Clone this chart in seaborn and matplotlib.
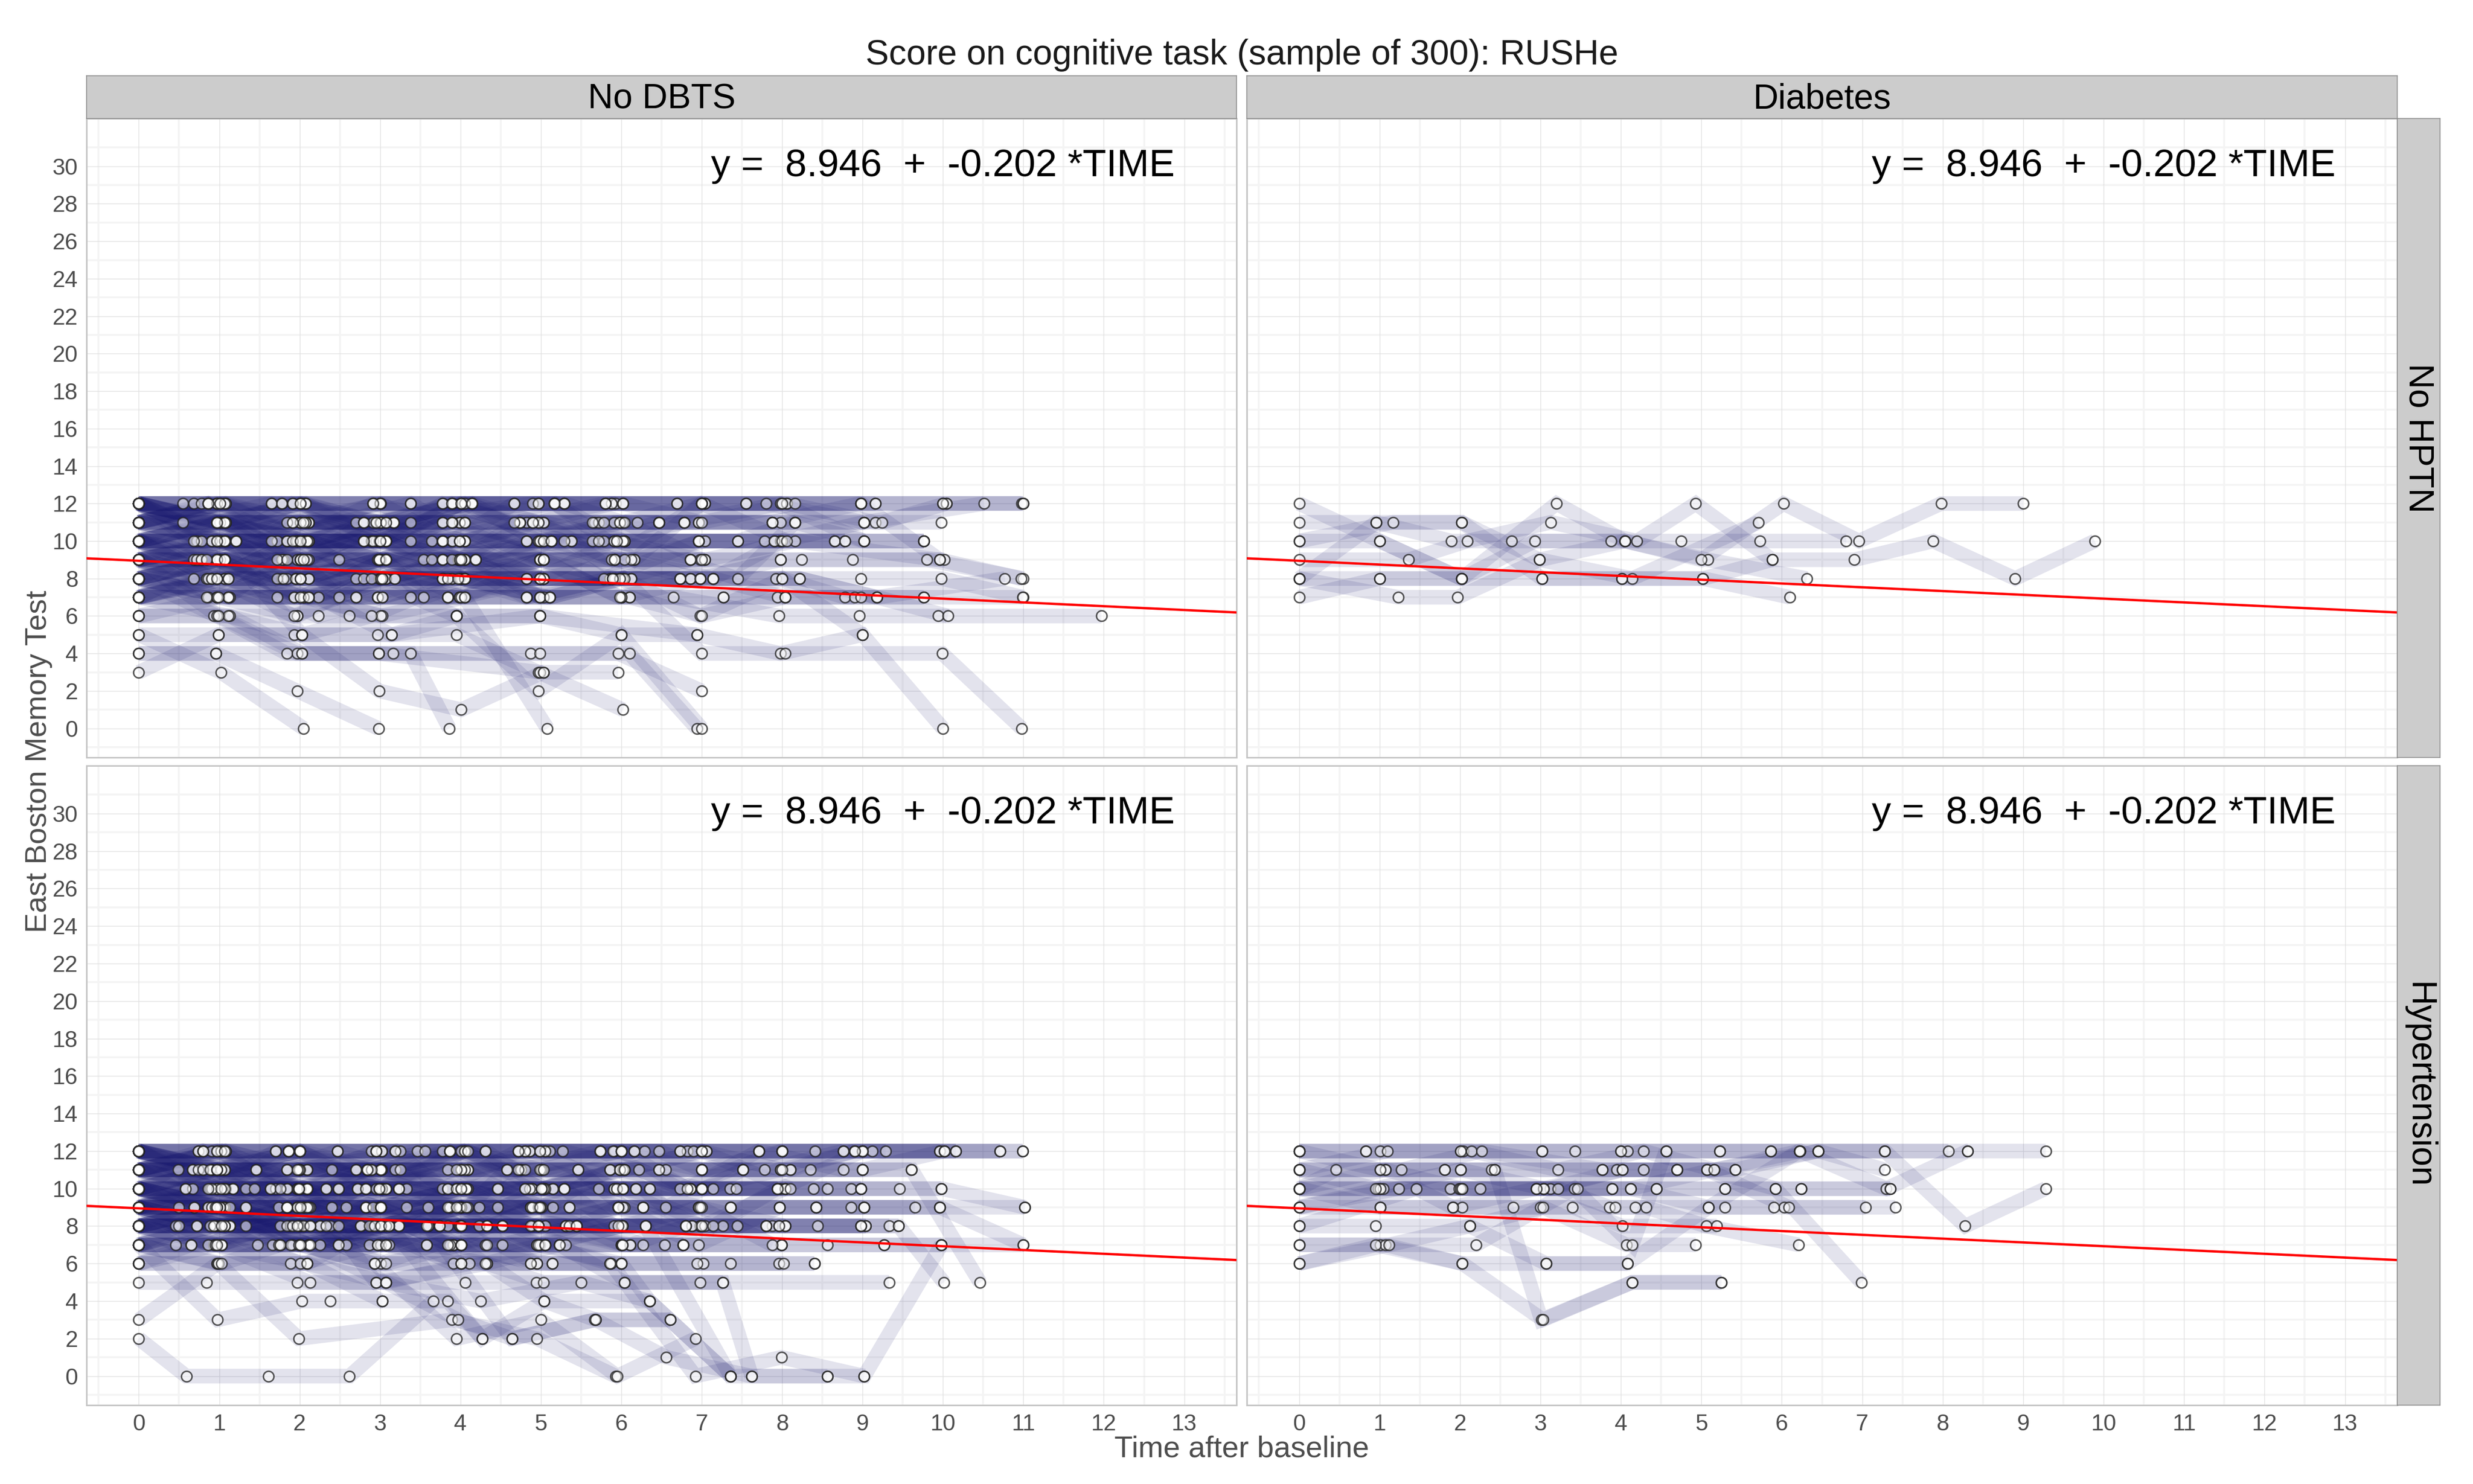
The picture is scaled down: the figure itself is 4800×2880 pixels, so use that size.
import numpy as np
import pandas as pd
import matplotlib
matplotlib.use("Agg")
import matplotlib.pyplot as plt
import seaborn as sns

# ---------------- data ----------------
TITLE = "Score on cognitive task (sample of 300): RUSHe"
COL_LABELS = ["No DBTS", "Diabetes"]
ROW_LABELS = ["No HPTN", "Hypertension"]
X_LABEL = "Time after baseline"
Y_LABEL = "East Boston Memory Test"
INTERCEPT = 8.946
SLOPE = -0.202
EQ_TEXT = "y =  8.946  +  -0.202 *TIME"
X_TICKS = list(range(0, 14))
Y_TICKS = list(range(0, 31, 2))

# No DBTS / No HPTN : one list of (time, score) visits per person
NODB_NOHP = [
    [[0,12],[0.55,12],[1.65,12],[2.91,12],[3.78,12],[4.67,12],[5.8,12],[6.69,12],[7.55,12],[8.98,12],[10.0,12],[10.98,12]],
    [[0,12],[0.68,12],[1.78,12],[3.0,12],[3.89,12],[4.97,12],[6.02,12],[7.0,12],[8.0,12],[9.16,12],[10.04,12],[11.0,12]],
    [[0,12],[0.78,12],[1.91,12],[3.38,12],[4.01,12],[5.17,12],[5.88,12],[7.04,12],[7.8,12],[9.02,11],[10.51,12]],
    [[0,11],[0.86,12],[2.01,12],[3.0,11],[4.14,12],[5.29,12],[6.02,11],[7.0,12],[8.06,12],[9.16,11],[9.98,11]],
    [[0,12],[0.97,12],[2.07,12],[2.95,11],[3.9,11],[4.74,11],[5.67,11],[6.47,11],[7.88,11],[8.98,12]],
    [[0,11],[1.08,12],[2.01,11],[3.01,11],[3.99,11],[4.82,11],[5.98,11],[6.96,11],[7.98,11],[9.24,11],[10.04,12]],
    [[0,10],[0.97,11],[1.91,11],[2.7,11],[3.38,11],[4.05,11],[4.9,11],[5.72,11],[6.2,11],[6.78,11],[7.98,12],[9.02,10],[9.76,10]],
    [[0,12],[1.01,11],[2.11,11],[2.8,11],[3.17,11],[4.9,12],[5.93,12]],
    [[0,11],[1.07,11],[2.09,10],[3.07,11],[4.05,10],[5.03,11],[6.04,10],[7.45,10],[8.16,11],[9.02,10]],
    [[0,10],[0.72,10],[1.72,10],[2.8,10],[3.64,10],[4.99,10],[5.78,10],[6.96,10],[7.78,10],[8.65,10],[9.76,10]],
    [[0,10],[0.91,10],[1.84,10],[2.89,10],[3.78,10],[5.13,10],[5.94,10],[7.9,10],[8.78,10]],
    [[0,11],[1.01,10],[1.97,10],[2.99,10],[3.99,10],[5.38,10],[6.04,10],[7.98,10],[9.02,11]],
    [[0,10],[1.07,10],[2.05,10],[3.07,10],[3.99,9],[4.99,9],[5.92,9],[6.86,9],[7.98,9],[8.88,9],[9.8,9],[11.0,8]],
    [[0,9],[1.21,10],[2.09,10],[2.99,9],[3.78,9],[5.91,10],[6.98,9],[8.24,9],[10.02,9]],
    [[0,9],[0.68,9],[1.8,9],[2.49,9],[3.54,9],[4.19,9],[5.91,9],[7.04,9],[8.16,10],[9.96,9],[10.97,8]],
    [[0,9],[0.78,9],[2.01,9],[3.07,9],[3.97,9],[4.82,8],[5.86,8],[6.73,8],[7.92,8],[8.98,8],[9.98,8],[11.0,7]],
    [[0,8],[0.97,9],[2.01,8],[3.01,8],[4.01,8],[5.03,8],[5.98,8],[6.86,8],[8.0,8],[8.78,7],[9.76,7]],
    [[0,8],[1.07,9],[1.78,8],[2.7,8],[3.78,8],[4.05,9],[5.03,8],[6.12,8],[6.98,8],[8.22,8],[9.18,7],[10.77,8]],
    [[0,8],[0.84,8],[1.95,8],[3.18,8],[3.89,8],[4.99,8],[5.89,8],[7.14,8],[8.04,7],[8.9,7]],
    [[0,7],[0.97,8],[2.11,8],[3.01,8],[4.01,8],[4.82,7],[6.0,7],[7.27,7],[7.94,7],[8.98,7],[9.76,7],[10.99,7]],
    [[0,7],[0.86,7],[1.72,7],[2.97,7],[3.84,7],[4.99,7],[6.1,7],[6.65,7],[7.96,6],[8.96,6],[9.94,6],[11.97,6]],
    [[0,7],[0.97,7],[1.93,7],[3.03,7],[3.99,7],[5.11,7],[6.02,8],[6.98,6],[8.0,8],[9.0,5]],
    [[0,8],[1.11,7],[2.05,7],[3.38,7],[4.05,7],[4.82,7],[5.86,8],[6.73,8]],
    [[0,6],[0.93,6],[1.97,6],[2.62,6],[3.95,6],[4.99,6],[6.0,5],[6.94,5]],
    [[0,12],[1.08,12],[2.07,12],[3.0,12],[4.14,12],[4.97,11],[5.88,12],[7.04,12],[8.06,12],[9.16,12]],
    [[0,11],[0.97,11],[2.11,11],[3.17,11],[4.05,11],[5.03,11],[5.98,11],[6.96,11],[8.16,11]],
    [[0,10],[1.01,11],[2.09,10],[3.07,10],[4.01,12],[5.17,12],[6.16,9],[7.0,12]],
    [[0,9],[0.97,10],[1.97,9],[2.99,9],[4.05,9],[4.99,10],[5.92,9],[6.98,8],[7.98,9]],
    [[0,12],[0.97,12],[2.01,12],[2.91,12],[3.89,12],[5.29,12],[6.69,12],[8.0,12]],
    [[0,11],[1.07,11],[2.01,11],[2.95,11],[4.74,11],[5.64,11],[6.78,11],[7.88,11]],
    [[0,10],[1.07,10],[1.97,10],[2.99,10],[3.78,10],[4.99,10],[5.91,11],[6.47,11]],
    [[0,8],[1.01,9],[2.01,9],[3.07,8],[4.01,8],[5.03,8],[5.98,8],[7.14,8],[8.22,8],[9.18,7]],
    [[0,9],[1.07,8],[1.95,8],[2.7,7],[3.84,7],[4.99,8],[6.12,8],[6.86,8]],
    [[0,7],[0.97,7],[2.05,7],[2.97,7],[3.99,7],[5.11,7],[6.0,7],[7.27,7],[8.04,7]],
    [[0,12],[0.86,12],[1.91,11],[3.01,12],[4.01,12],[4.97,12],[6.02,12],[7.0,12]],
    [[0,11],[1.01,11],[2.11,11],[3.01,11],[3.99,11],[4.82,10],[5.94,10],[6.96,10]],
    [[0,10],[0.97,10],[2.05,10],[2.8,10],[3.99,10],[5.13,10],[6.04,10],[7.45,10],[8.65,10]],
    [[0,9],[1.07,9],[2.01,9],[3.07,9],[4.19,9],[4.99,9],[5.92,9],[7.04,9]],
    [[0,8],[0.97,8],[2.11,8],[3.01,8],[3.89,8],[5.03,8]],
    [[0,12],[1.01,10],[1.84,10],[3.07,10],[4.05,9],[5.03,9],[6.16,9],[7.04,10],[7.98,10],[9.02,10],[9.76,10]],
    [[0,5],[1.02,3],[2.05,0]],
    [[0,4],[0.96,4],[1.97,2],[2.98,0]],
    [[0,3],[0.99,5],[1.93,5],[2.97,5],[3.95,5],[4.97,3],[6.02,1]],
    [[0,6],[1.13,6],[2.03,4],[3.38,4],[3.86,0]],
    [[0,7],[1.11,6],[2.03,5],[2.99,2],[4.01,1],[5.03,3],[5.96,3]],
    [[0,8],[0.97,6],[1.84,4],[2.98,4],[4.87,4],[5.96,4],[7.0,2]],
    [[0,9],[0.99,6],[1.97,4],[3.16,4],[4.99,4],[6.1,4],[6.94,0]],
    [[0,10],[1.07,8],[2.11,7],[3.03,6],[3.95,6],[4.97,2],[6.0,5],[7.0,0]],
    [[0,9],[1.13,7],[2.23,7],[3.14,5],[4.99,6],[6.94,5],[7.98,4],[9.0,5],[10.0,0]],
    [[0,8],[1.11,7],[2.05,7],[3.01,6],[4.05,7],[5.08,0]],
    [[0,12],[0.97,10],[2.03,5],[2.89,6],[4.01,8],[5.11,7],[6.02,8],[7.0,4],[8.04,4],[9.99,4],[10.98,0]],
    [[0,10],[1.07,9],[2.01,8],[3.07,8],[4.05,8],[5.03,7],[6.1,7],[7.0,6],[8.04,7],[9.18,7],[10.06,6]],
    [[0,12],[1.08,11],[2.07,11],[3.17,11],[3.9,12],[5.17,12],[5.8,12],[7.55,12],[8.98,12],[9.96,9]],
    [[0,11],[1.01,12],[2.01,12],[3.0,12],[4.14,12],[5.29,12],[6.02,12],[7.0,11],[8.16,12],[8.98,12],[10.0,12],[11.0,12]],
    [[0,10],[0.91,10],[1.84,11],[2.8,11],[3.78,10],[4.74,11],[5.78,11],[6.47,11],[7.88,11],[9.02,11]],
    [[0,9],[1.07,9],[2.0,10],[3.07,10],[4.05,10],[5.03,10],[6.04,10],[6.96,10],[7.9,10],[8.78,10]],
    [[0,4],[0.96,4],[2.03,4],[2.98,4],[4.99,3],[5.03,3]],
    [[0,5],[0.99,5],[2.03,5],[3.14,5],[3.95,6],[4.99,6]],
    [[0,12],[0.97,11],[2.01,12],[3.0,10],[4.01,12]],
    [[0,12],[1.08,10],[1.91,12],[2.91,11],[4.14,12],[4.97,10]],
    [[0,11],[0.86,12],[1.65,10],[3.38,12],[3.78,11],[5.17,12],[6.02,10]],
    [[0,10],[0.97,12],[2.07,11],[3.0,12],[3.89,10],[4.67,12]],
    [[0,12],[0.78,10],[2.01,11],[3.01,9],[4.05,11],[4.82,10],[5.98,11]],
    [[0,11],[1.01,9],[1.91,11],[2.95,10],[3.9,11],[5.03,9]],
    [[0,9],[0.97,11],[2.11,10],[3.07,11],[3.99,9],[4.74,11],[5.64,10],[6.47,11]],
    [[0,10],[1.07,11],[2.01,9],[3.17,11],[4.05,10],[4.9,11]],
    [[0,12],[1.01,11],[2.11,9],[2.8,11],[3.9,10]],
    [[0,10],[0.91,8],[1.97,10],[2.99,9],[3.99,10],[4.99,8],[5.91,10]],
    [[0,8],[1.01,10],[2.05,9],[2.89,10],[3.78,8],[5.13,10]],
    [[0,11],[1.07,10],[1.84,8],[3.07,10],[3.64,9],[5.38,10],[6.04,8]],
    [[0,10],[0.72,9],[2.09,10],[2.8,8],[3.99,10]],
    [[0,9],[1.21,10],[1.72,8],[2.99,10],[3.78,9],[4.99,10],[5.78,8],[6.96,10]],
    [[0,9],[0.97,7],[2.01,9],[2.99,8],[4.19,9],[4.99,7]],
    [[0,7],[1.07,9],[1.8,8],[3.07,9],[3.54,7],[4.99,9],[5.92,8]],
    [[0,10],[0.78,9],[2.01,7],[3.07,9],[4.05,8]],
    [[0,9],[0.68,8],[2.01,9],[2.49,7],[3.78,9],[4.99,8]],
    [[0,8],[0.84,7],[1.95,8],[3.01,9],[4.01,7],[5.03,8]],
    [[0,8],[0.97,9],[2.11,7],[3.18,8],[3.89,9],[4.82,7],[5.89,8]],
    [[0,7],[1.11,8],[1.78,9],[2.7,7],[3.78,8],[5.03,9]],
    [[0,9],[0.97,8],[1.95,10],[3.01,8],[4.01,9],[4.99,7],[5.98,8],[6.86,9]],
    [[0,7],[0.86,8],[1.93,7],[2.97,9],[3.84,7],[4.82,8]],
    [[0,7],[0.97,9],[2.05,7],[3.03,8],[4.05,7],[4.99,9],[6.0,7]],
    [[0,8],[1.11,7],[1.72,9],[2.97,7],[3.99,8],[5.11,7]],
    [[0,7],[1.11,8],[2.23,6],[3.03,7],[3.84,8]],
    [[0,6],[0.99,7],[1.97,6],[2.89,8],[3.95,6]],
    [[0,12],[0.55,11],[1.65,12],[2.91,10],[3.78,12],[4.67,11],[5.8,12]],
    [[0,12],[0.68,10],[1.78,12],[3.0,11],[3.89,12],[5.29,10]],
    [[0,11],[1.07,12],[2.01,10],[3.01,11],[4.05,12],[5.03,10],[6.04,11],[7.0,9]],
    [[0,10],[0.97,11],[1.84,9],[2.8,10],[3.78,11],[4.99,9],[5.94,10],[7.45,8],[8.16,11]],
    [[0,9],[1.07,10],[2.01,8],[2.99,9],[3.78,10],[5.03,8],[6.12,9],[7.14,8],[8.0,10]],
    [[0,8],[0.97,9],[2.01,7],[3.07,9],[4.05,8],[5.03,9],[5.98,7],[6.98,8]],
    [[0,12],[0.97,11],[2.07,12],[3.0,10],[4.01,12],[4.97,11],[5.88,9],[7.0,12],[8.06,10]],
    [[0,11],[1.01,12],[2.11,10],[2.95,11],[3.99,9],[4.9,11],[5.72,10],[6.78,11]],
    [[0,10],[1.07,9],[2.05,11],[3.07,10],[4.05,8],[5.13,10],[6.04,9]],
    [[0,12],[1.08,11],[2.01,12],[3.38,10],[4.14,12]],
    [[0,11],[0.86,12],[1.91,10],[2.91,12],[3.89,11]],
    [[0,10],[1.07,11],[2.09,9],[3.07,11]],
    [[0,10],[0.91,8],[2.09,10],[2.99,9]],
    [[0,9],[1.21,10],[2.01,8],[2.99,9]],
    [[0,8],[0.84,9],[2.11,7],[3.01,8]],
    [[0,7],[0.97,8],[1.93,6],[3.03,8]],
    [[0,12],[0.97,11],[2.01,10],[3.0,10],[4.01,9],[5.03,9],[5.92,9],[6.86,9]],
    [[0,11],[0.97,10],[2.05,9],[3.07,9],[3.97,8],[4.99,8],[5.89,8],[6.73,8]],
]

# Diabetes / No HPTN
DB_NOHP = [
    [[0,12],[1.0,10],[2.02,8],[3.2,12],[4.05,10],[5.08,9],[6.31,8]],
    [[0,11],[0.96,11],[1.89,10],[2.64,10],[3.88,10],[4.75,10],[5.73,10],[6.8,10]],
    [[0,10],[1.17,11],[2.02,11],[2.99,9],[4.05,10],[5.0,9],[6.02,12],[6.96,10],[7.98,12],[9.0,12]],
    [[0,9],[1.36,9],[2.09,10],[3.13,11],[4.2,10],[4.93,12],[5.88,9],[6.9,9],[7.88,10],[8.9,8],[9.89,10]],
    [[0,8],[1.0,8],[2.02,8],[3.02,8],[4.01,8],[5.02,8],[6.1,7]],
    [[0,8],[1.23,7],[1.97,7],[2.99,9],[4.14,8],[5.71,11]],
    [[0,7],[1.0,8],[2.02,8],[2.93,10],[4.05,10]],
    [[0,8],[0.96,11],[2.02,11],[3.02,8],[4.01,8],[5.02,8],[5.88,9]],
    [[0,10],[1.0,10],[2.02,8]],
]

# No DBTS / Hypertension
NODB_HP = [
    [[0,12],[0.74,12],[1.7,12],[2.89,12],[3.78,12],[4.72,12],[5.74,12],[6.73,12],[7.71,12],[8.76,12],[9.96,12],[10.71,12]],
    [[0,12],[0.8,12],[1.86,12],[2.95,12],[3.87,12],[4.8,12],[5.91,12],[6.82,12],[8.0,12],[8.9,12],[10.02,12],[10.99,12]],
    [[0,12],[0.91,12],[2.0,12],[3.02,12],[4.05,12],[4.86,12],[6.0,12],[6.9,12],[8.41,12],[9.0,12],[10.16,12]],
    [[0,11],[0.97,12],[2.0,12],[3.19,12],[4.31,12],[4.99,12],[6.16,12],[7.0,12],[9.12,12],[10.71,12]],
    [[0,12],[1.02,12],[2.47,12],[3.25,12],[4.72,12],[5.05,12],[6.29,12],[7.06,12],[9.29,12]],
    [[0,12],[1.08,12],[2.0,11],[3.46,12],[4.8,12],[5.11,12],[6.47,12],[7.0,11],[8.0,12],[9.0,12],[9.96,12]],
    [[0,11],[0.49,11],[1.46,11],[2.4,11],[3.01,11],[3.84,11],[4.58,11],[5.46,11],[6.47,11],[7.51,11],[8.35,11],[9.61,11]],
    [[0,11],[0.67,11],[1.84,11],[2.7,11],[3.56,12],[4.86,12],[5.9,12],[7.0,11],[8.1,11],[9.0,11],[10.02,12]],
    [[0,11],[0.8,11],[1.99,11],[2.84,11],[4.01,11],[4.75,11],[5.86,11],[6.55,11],[7.78,11],[8.76,12]],
    [[0,10],[0.91,11],[2.09,11],[3.01,11],[4.09,11],[5.01,11],[5.98,11],[7.0,10],[7.98,11],[9.0,11]],
    [[0,11],[0.97,11],[1.99,11],[3.01,11],[4.01,11],[5.01,11],[6.04,11],[7.0,11],[8.1,11],[8.9,12],[10.16,12]],
    [[0,12],[1.07,11],[1.84,11],[2.84,11],[4.09,11],[5.27,12],[6.22,11],[6.86,10],[7.98,10],[9.0,12]],
    [[0,10],[0.58,10],[1.64,10],[2.72,10],[3.95,10],[4.8,10],[5.72,10],[6.86,10],[7.94,10],[8.86,10],[9.98,10]],
    [[0,10],[0.89,10],[1.84,10],[2.82,10],[4.01,10],[4.89,10],[5.91,10],[7.0,10],[8.04,10],[8.98,10]],
    [[0,10],[0.97,10],[1.97,10],[2.99,10],[4.07,10],[5.03,10],[6.02,10],[7.14,10],[8.39,10],[9.46,10]],
    [[0,9],[1.05,10],[2.09,10],[3.07,10],[3.95,10],[5.15,10],[6.18,10],[7.35,10],[8.56,10]],
    [[0,10],[1.17,10],[2.33,10],[3.23,10],[4.46,10],[5.29,10],[6.35,10],[7.43,10],[8.98,10]],
    [[0,11],[1.33,10],[2.48,10],[3.33,10],[4.01,10],[5.03,10],[6.02,10],[7.0,10],[7.94,10]],
    [[0,9],[1.44,10],[2.09,10],[3.07,10],[4.07,10],[4.89,10],[5.94,10],[6.86,10]],
    [[0,9],[0.5,9],[1.33,9],[2.05,9],[3.01,9],[4.01,9],[4.99,9],[5.96,9],[6.96,9],[7.97,9],[9.02,9],[9.96,9],[11.02,9]],
    [[0,9],[0.69,9],[1.74,9],[2.58,9],[3.87,9],[4.87,9],[5.35,9],[6.27,9],[7.36,9],[8.42,9],[9.65,9]],
    [[0,9],[0.86,9],[1.84,9],[2.82,9],[4.01,9],[4.99,9],[5.96,9],[6.96,9],[7.97,9],[8.86,9],[9.96,9]],
    [[0,8],[0.97,9],[1.97,9],[3.01,9],[4.23,9],[4.99,9],[6.27,9],[7.36,9],[8.42,9],[9.02,9]],
    [[0,9],[1.07,9],[1.97,9],[3.01,9],[4.01,9],[4.87,9],[5.96,9],[6.96,9],[8.04,8],[9.04,8]],
    [[0,8],[0.46,8],[1.76,8],[2.76,8],[3.6,8],[4.33,8],[4.97,8],[6.01,8],[6.8,8],[7.8,8],[8.98,8],[9.45,8]],
    [[0,8],[0.72,8],[1.89,8],[2.91,8],[3.74,8],[4.52,8],[5.31,8],[6.3,8],[6.88,8],[7.88,8],[8.44,8],[9.33,8]],
    [[0,8],[0.95,8],[1.99,8],[3.01,8],[3.84,8],[4.97,8],[5.44,8],[6.01,8],[6.98,8],[7.96,8],[9.04,8]],
    [[0,8],[1.01,8],[2.13,8],[3.11,8],[3.99,8],[4.97,8],[6.3,8],[7.26,8],[8.04,8],[8.98,8]],
    [[0,9],[1.07,8],[2.25,8],[3.23,8],[3.99,8],[5.31,8],[6.01,8],[7.44,8],[8.04,8]],
    [[0,8],[1.13,8],[2.38,8],[3.01,8],[4.33,8],[5.44,8],[6.8,8],[7.8,8]],
    [[0,8],[1.01,8],[2.48,8],[3.23,8],[4.52,8],[4.97,8]],
    [[0,7],[0.65,7],[1.66,7],[2.48,7],[3.58,7],[4.31,7],[5.23,7],[6.11,7],[6.77,7],[7.99,7],[8.56,7],[9.27,7],[9.98,7],[11.0,7]],
    [[0,7],[0.93,7],[1.76,7],[2.87,7],[3.91,7],[4.95,7],[6.0,7],[6.54,7],[7.99,7]],
    [[0,7],[1.03,7],[1.91,7],[2.97,7],[4.01,7],[5.05,7],[6.0,7],[6.77,7]],
    [[0,7],[1.48,7],[2.01,7],[3.07,7],[4.01,7],[4.95,7],[6.0,6],[7.02,6],[7.96,6],[8.4,6]],
    [[0,6],[0.97,6],[1.89,6],[2.93,6],[4.01,6],[4.87,6],[5.86,6],[6.94,6],[8.02,6]],
    [[0,6],[0.99,6],[2.09,6],[3.07,5],[4.11,6],[5.14,6],[6.0,6],[7.36,6],[8.4,6]],
    [[0,5],[0.84,5],[1.97,5],[2.95,5],[4.06,5],[4.94,5],[6.04,5],[7.26,5]],
    [[0,12],[1.02,11],[2.09,10],[2.95,5],[4.33,6],[5.03,5],[6.98,5],[9.33,5]],
    [[0,11],[0.97,10],[2.11,7],[3.07,5],[4.25,4],[5.5,5],[6.35,4]],
    [[0,10],[1.07,9],[2.01,8],[3.07,7],[4.33,6],[5.04,4],[5.68,3],[6.61,3]],
    [[0,2],[0.59,0],[1.61,0],[2.62,0],[3.66,4]],
    [[0,3],[0.98,6],[2.09,6],[3.03,4],[3.84,4],[4.27,2]],
    [[0,7],[0.98,3],[2.03,4],[2.38,4],[3.03,4]],
    [[0,7],[0.99,6],[1.99,2],[3.89,3],[4.95,2],[5.93,0]],
    [[0,8],[0.97,7],[2.13,5],[3.07,5],[3.97,3],[4.64,2],[5.67,3],[6.61,3]],
    [[0,9],[1.03,7],[2.01,7],[2.93,6],[3.95,2],[5.0,3],[5.95,0],[6.92,2]],
    [[0,10],[1.05,9],[2.11,7],[3.11,8],[4.27,2],[5.04,4],[6.35,4],[7.36,0]],
    [[0,9],[1.17,10],[2.33,10],[3.6,8],[4.64,2],[5.68,3],[6.56,1],[7.62,0],[8.56,0]],
    [[0,8],[1.13,8],[2.25,8],[3.74,8],[4.52,8],[5.44,8],[6.3,8],[7.36,0],[8.56,0],[9.02,0],[9.98,7]],
    [[0,11],[0.67,11],[1.84,10],[2.82,9],[3.91,7],[4.95,6],[5.87,6],[6.92,0],[7.99,1],[9.02,0]],
    [[0,10],[1.33,9],[2.05,9],[3.01,9],[4.01,7],[5.23,7],[6.04,5],[7.26,5],[7.62,0]],
    [[0,9],[0.86,9],[2.11,7],[3.58,7],[5.14,6],[6.0,6],[6.35,4],[7.36,0]],
    [[0,12],[1.02,12],[2.0,12],[3.02,12],[4.05,12],[5.05,12],[6.0,12],[7.0,12],[8.0,12],[9.0,12],[10.02,12],[10.99,12]],
    [[0,11],[0.97,11],[1.99,11],[3.01,11],[4.09,11],[5.01,11],[6.04,11],[7.0,11],[7.98,11],[9.0,11],[9.61,11],[10.46,5]],
    [[0,10],[1.05,10],[2.09,10],[3.07,10],[4.07,10],[5.15,10],[6.18,10],[7.0,10],[8.04,10],[8.98,10],[9.98,10],[11.02,9]],
    [[0,9],[1.07,9],[2.05,9],[2.82,9],[3.87,9],[4.99,9],[5.96,9],[7.36,9],[8.42,9],[9.02,9],[9.96,9],[11.0,7]],
    [[0,8],[0.95,8],[2.13,8],[3.11,8],[4.33,8],[5.31,8],[6.01,8],[6.98,8],[7.96,8],[8.98,8],[9.45,8],[10.01,5]],
    [[0,7],[1.03,7],[2.11,7],[3.07,7],[4.01,7],[5.05,7],[6.0,7],[6.77,7],[7.99,7],[9.27,7],[9.98,7]],
    [[0,12],[0.74,12],[1.86,12],[2.95,12],[3.87,12],[4.8,12],[5.74,12],[6.73,12],[7.71,12]],
    [[0,11],[0.91,11],[1.99,11],[2.84,11],[4.01,11],[5.01,11],[5.98,11],[6.47,11],[7.51,11]],
    [[0,10],[0.97,10],[2.09,10],[3.23,10],[4.46,10],[5.29,10],[6.35,10],[6.86,10],[7.94,10]],
    [[0,9],[1.07,9],[2.05,9],[3.01,9],[4.01,9],[5.35,9],[6.27,9],[6.96,9]],
    [[0,8],[1.13,8],[1.99,8],[3.01,8],[3.99,8],[4.97,8],[6.01,8],[6.88,8],[7.8,8]],
    [[0,12],[0.97,11],[2.0,12],[3.02,11],[4.05,12],[4.99,11],[6.0,12],[7.0,12],[8.0,11],[8.9,12]],
    [[0,11],[1.08,12],[2.09,11],[3.19,11],[4.09,10],[5.03,10],[6.02,11],[7.06,12]],
    [[0,10],[0.97,9],[2.01,10],[2.99,9],[4.01,10],[4.99,9],[6.02,10],[7.0,9]],
    [[0,9],[0.95,8],[1.99,9],[3.01,8],[4.01,9],[4.97,8],[5.96,9],[7.04,8]],
    [[0,7],[0.93,8],[2.01,7],[3.07,8],[3.91,7],[5.05,8],[6.11,7],[6.8,8]],
    [[0,12],[0.91,11],[2.0,12],[3.02,10],[4.05,12]],
    [[0,12],[0.97,10],[1.86,12],[2.89,11],[3.87,12],[4.86,10]],
    [[0,11],[1.02,12],[1.7,10],[2.95,12],[4.05,11],[4.99,12],[5.91,10]],
    [[0,10],[0.8,12],[2.0,11],[3.19,12],[3.78,10],[4.72,12]],
    [[0,12],[1.08,10],[2.47,12],[3.25,11],[4.31,12],[5.05,10],[6.16,12]],
    [[0,12],[0.74,11],[1.84,9],[2.84,11],[3.84,10],[4.75,11]],
    [[0,11],[0.91,9],[1.99,11],[3.01,10],[4.01,11],[5.01,9],[5.86,11]],
    [[0,9],[1.07,11],[2.09,10],[2.7,11],[4.09,9],[4.58,11]],
    [[0,11],[0.67,10],[1.46,11],[2.4,9],[3.01,11],[4.01,10],[5.46,11],[6.04,9]],
    [[0,10],[0.97,11],[1.84,9],[3.01,11],[3.84,10]],
    [[0,10],[0.89,8],[1.97,10],[2.99,9],[4.07,10],[4.89,8]],
    [[0,8],[0.97,10],[2.09,9],[2.82,10],[4.01,8],[5.03,10],[6.02,9]],
    [[0,10],[1.05,9],[1.64,10],[3.07,8],[3.95,10],[5.15,9]],
    [[0,11],[1.17,10],[2.33,8],[3.23,10],[4.46,9],[5.29,10],[5.91,8]],
    [[0,9],[0.58,10],[1.84,8],[2.72,10],[4.01,9],[4.8,10]],
    [[0,10],[1.33,8],[2.48,10],[3.33,9],[4.07,10]],
    [[0,9],[0.86,7],[1.97,9],[3.01,8],[4.01,9],[4.99,7],[5.96,9]],
    [[0,7],[0.97,9],[2.05,8],[2.82,9],[3.87,7],[4.87,9]],
    [[0,9],[1.07,8],[1.84,9],[2.58,7],[4.01,9],[5.35,8]],
    [[0,10],[0.69,9],[1.74,7],[3.01,9],[4.23,8],[4.99,9],[6.27,7]],
    [[0,9],[0.5,8],[1.97,9],[3.01,7],[3.87,9]],
    [[0,8],[0.95,7],[1.99,8],[2.91,9],[3.84,7],[4.97,8]],
    [[0,8],[1.01,9],[1.89,7],[3.01,8],[3.99,9],[4.52,7],[5.44,8]],
    [[0,7],[0.72,8],[2.13,9],[3.11,7],[3.74,8],[4.97,9],[6.01,7]],
    [[0,8],[1.13,9],[2.25,7],[2.76,8],[3.6,9],[4.33,7]],
    [[0,9],[1.07,8],[1.76,10],[3.23,8],[3.99,9],[5.31,7]],
    [[0,8],[0.46,7],[1.99,8],[3.01,6],[4.33,8]],
    [[0,7],[0.93,8],[2.01,6],[2.97,7],[4.01,8],[4.95,6]],
    [[0,7],[1.03,6],[1.76,7],[2.87,8],[3.91,6],[5.05,7],[6.0,8]],
    [[0,6],[0.65,7],[1.91,8],[3.07,6],[4.01,7]],
    [[0,8],[1.03,7],[2.11,9],[2.48,7],[3.58,8],[4.31,6],[5.23,7]],
    [[0,6],[0.97,7],[2.09,6],[2.93,8],[4.01,6]],
    [[0,12],[0.8,11],[1.86,12],[3.02,10],[3.87,12],[4.8,11],[5.74,12],[6.73,10],[8.0,12]],
    [[0,11],[0.97,12],[1.99,10],[2.84,11],[4.01,12],[5.01,10],[5.98,11],[6.55,9],[7.51,11]],
    [[0,10],[0.89,11],[1.84,9],[2.82,10],[3.95,11],[4.89,9],[5.94,10],[7.0,8],[8.04,10]],
    [[0,9],[1.07,10],[2.05,8],[3.01,9],[4.01,10],[4.87,8],[5.96,9],[6.96,7],[7.97,9]],
    [[0,8],[1.01,9],[1.99,7],[3.01,8],[3.84,9],[4.97,7],[6.01,8],[6.98,9],[7.88,7]],
    [[0,12],[1.02,11],[2.0,12],[2.95,10],[4.05,12],[4.72,11],[6.0,12],[6.82,10],[7.71,12],[8.76,11]],
    [[0,11],[1.07,12],[2.09,10],[3.01,11],[4.09,12],[5.01,10],[6.04,11],[7.0,12],[8.1,10]],
    [[0,10],[0.97,9],[1.97,11],[2.99,10],[4.07,9],[5.03,11],[6.02,10],[7.14,8],[7.94,10]],
    [[0,12],[0.91,10],[1.7,12],[2.89,11]],
    [[0,11],[0.8,12],[1.99,10],[2.84,11]],
    [[0,10],[0.97,11],[2.09,9],[3.07,10]],
    [[0,9],[0.86,10],[1.97,8],[3.01,9]],
    [[0,8],[0.95,9],[2.13,7],[3.11,8]],
    [[0,12],[0.97,11],[1.99,10],[2.99,10],[3.95,9],[4.99,9],[5.96,8],[6.8,8]],
    [[0,11],[1.02,10],[2.01,9],[3.01,9],[4.01,8],[4.97,8],[6.01,7],[6.77,7]],
    [[0,10],[0.97,9],[2.13,8],[3.07,7],[4.01,7],[5.05,7],[5.86,6]],
    [[0,9],[1.03,8],[2.01,7],[2.93,6],[4.01,6],[4.87,6]],
]

# Diabetes / Hypertension
DB_HP = [
    [[0,12],[0.83,12],[2.01,12],[3.02,12],[4.0,12],[5.23,12],[6.22,12],[7.28,12],[8.28,8],[9.28,10]],
    [[0,12],[1.01,12],[2.04,12],[3.43,12],[4.08,12],[5.23,12],[5.86,12],[6.45,12],[7.28,11]],
    [[0,11],[1.1,12],[2.14,12],[3.22,11],[4.28,12],[5.16,11],[6.23,12],[7.3,10],[8.31,12],[9.28,12]],
    [[0,10],[0.46,11],[1.27,11],[2.27,12],[3.77,11],[4.7,11],[5.42,11],[6.45,12],[8.07,12]],
    [[0,11],[1.01,11],[2.01,11],[2.43,11],[3.01,3],[4.14,5],[5.25,5]],
    [[0,10],[1.07,11],[1.81,11],[2.39,11],[3.95,11],[5.07,11],[5.92,10],[6.99,5]],
    [[0,10],[0.98,10],[1.88,10],[2.95,10],[3.89,10],[4.44,10],[5.29,10],[6.24,10],[7.35,10]],
    [[0,9],[1.01,10],[1.99,10],[3.04,10],[4.12,10],[5.09,9],[6.03,9],[7.04,9]],
    [[0,10],[1.05,10],[2.03,10],[3.12,10],[4.02,11],[5.07,11],[6.09,9],[7.41,9]],
    [[0,9],[1.24,10],[2.25,10],[3.22,10],[3.86,9],[4.18,9],[5.29,9],[5.9,9]],
    [[0,8],[1.46,10],[1.91,9],[3.0,9],[3.93,9],[4.31,9],[5.06,8],[6.21,7]],
    [[0,9],[1.01,9],[2.03,9],[2.66,9],[3.4,9],[4.02,8],[5.19,8]],
    [[0,8],[0.95,8],[2.12,8],[3.03,9],[4.07,7],[4.93,7]],
    [[0,7],[1.01,7],[2.2,7],[3.42,10],[4.14,7],[4.56,12]],
    [[0,7],[1.07,7],[2.03,6],[3.03,3],[4.14,5],[5.25,5]],
    [[0,6],[1.12,7],[2.12,8],[3.07,6],[4.08,6],[5.09,9],[6.22,12]],
    [[0,11],[1.07,11],[2.01,10],[2.95,10],[3.46,10],[4.12,10],[5.16,11],[6.45,12],[7.28,12],[8.31,12]],
    [[0,10],[1.01,10],[2.03,10],[3.04,10],[4.44,10],[5.29,10],[5.92,10],[6.24,10],[7.35,10]],
    [[0,12],[0.83,12],[2.01,12],[3.02,12],[4.0,12],[4.56,12],[5.86,12],[6.22,12]],
    [[0,6],[0.95,7],[2.03,6],[3.07,6],[4.08,6]],
    [[0,12],[1.01,11],[1.81,11],[2.43,11],[3.77,11],[4.28,11],[4.7,11],[5.42,11]],
    [[0,11],[0.95,10],[2.01,11],[3.04,10],[4.02,11],[4.7,11]],
    [[0,10],[1.01,9],[1.91,9],[2.95,10],[3.89,10]],
]

PANELS = {
    (0, 0): NODB_NOHP,
    (0, 1): DB_NOHP,
    (1, 0): NODB_HP,
    (1, 1): DB_HP,
}

# ---------------- styling ----------------
sns.set_theme(style="white")
plt.rcParams['font.family'] = ['Liberation Sans', 'DejaVu Sans']

W, H = 4800, 2880
fig = plt.figure(figsize=(16, 9.6), dpi=300)

col_x = [(168, 2400), (2420, 4653)]
row_y = [(230, 1470), (1486, 2727)]

XLIM = (-0.65, 13.65)
YLIM = (-1.55, 32.55)

LINE_COLOR = "#191970"
BAND_LW = 6.8
BAND_ALPHA = 0.12

for (r, c), subjects in PANELS.items():
    x0, x1 = col_x[c]
    y0, y1 = row_y[r]
    ax = fig.add_axes([x0 / W, 1 - y1 / H, (x1 - x0) / W, (y1 - y0) / H])
    rows = []
    for sid, visits in enumerate(subjects):
        for t, s in visits:
            rows.append({"subj": sid, "time": t, "score": s})
    df = pd.DataFrame(rows)

    ax.set_facecolor("white")
    # grid
    for xv in np.arange(-0.5, 14.0, 1.0):
        ax.axvline(xv, color="#F4F4F4", lw=0.9, zorder=0)
    for yv in np.arange(-1, 33, 2):
        ax.axhline(yv, color="#F4F4F4", lw=0.9, zorder=0)
    for xv in X_TICKS:
        ax.axvline(xv, color="#E2E2E2", lw=0.35, zorder=0.5)
    for yv in Y_TICKS:
        ax.axhline(yv, color="#E2E2E2", lw=0.35, zorder=0.5)

    n_before = len(ax.lines)
    sns.lineplot(data=df, x="time", y="score", units="subj", estimator=None,
                 sort=False, color=LINE_COLOR, alpha=BAND_ALPHA, linewidth=BAND_LW,
                 ax=ax, legend=False, zorder=2)
    for ln in ax.lines[n_before:]:
        ln.set_linewidth(BAND_LW)
        ln.set_alpha(BAND_ALPHA)
        ln.set_solid_joinstyle("miter")
        ln.set_solid_capstyle("butt")

    sns.scatterplot(data=df, x="time", y="score", ax=ax, s=24, marker="o",
                    facecolor=(1, 1, 1, 0.55), edgecolor=(0.12, 0.12, 0.12, 0.75),
                    linewidth=0.7, legend=False, zorder=3)

    xs = np.array(XLIM)
    sns.lineplot(x=xs, y=INTERCEPT + SLOPE * xs, color="red", linewidth=1.1,
                 ax=ax, legend=False, zorder=4)

    ax.text(10.0, 30.0, EQ_TEXT, ha="center", va="center", fontsize=18,
            color="black", zorder=5)

    ax.set_xlim(*XLIM)
    ax.set_ylim(*YLIM)
    ax.set_xticks(X_TICKS)
    ax.set_yticks(Y_TICKS)
    ax.set_xlabel("")
    ax.set_ylabel("")
    ax.tick_params(length=0, labelsize=10.7, labelcolor="#4D4D4D", pad=4)
    if r == 0:
        ax.set_xticklabels([])
    else:
        ax.set_xticklabels([str(v) for v in X_TICKS])
    if c == 1:
        ax.set_yticklabels([])
    else:
        ax.set_yticklabels([str(v) for v in Y_TICKS])
    for sp in ax.spines.values():
        sp.set_color("#C4C4C4")
        sp.set_linewidth(0.7)
    ax.grid(False)

# strips
for c, lab in enumerate(COL_LABELS):
    x0, x1 = col_x[c]
    sax = fig.add_axes([x0 / W, 1 - 230 / H, (x1 - x0) / W, 83 / H])
    sax.set_facecolor("#CCCCCC")
    sax.set_xticks([]); sax.set_yticks([])
    for sp in sax.spines.values():
        sp.set_color("#8C8C8C"); sp.set_linewidth(0.4)
    sax.text(0.5, 0.45, lab, ha="center", va="center", fontsize=16.3,
             color="black", transform=sax.transAxes)
for r, lab in enumerate(ROW_LABELS):
    y0, y1 = row_y[r]
    sax = fig.add_axes([4653 / W, 1 - y1 / H, 83 / W, (y1 - y0) / H])
    sax.set_facecolor("#CCCCCC")
    sax.set_xticks([]); sax.set_yticks([])
    for sp in sax.spines.values():
        sp.set_color("#8C8C8C"); sp.set_linewidth(0.4)
    sax.text(0.5, 0.5, lab, ha="center", va="center", fontsize=16.3,
             rotation=-90, color="black", transform=sax.transAxes)

fig.text(2410 / W, 1 - 107 / H, TITLE, ha="center", va="center",
         fontsize=16.3, color="#1A1A1A")
fig.text(2410 / W, 1 - 2812 / H, X_LABEL, ha="center", va="center",
         fontsize=14, color="#4D4D4D")
fig.text(75 / W, 1 - 1478 / H, Y_LABEL, ha="center", va="center",
         fontsize=14, color="#4D4D4D", rotation=90)

fig.savefig("out.png", dpi=300)
